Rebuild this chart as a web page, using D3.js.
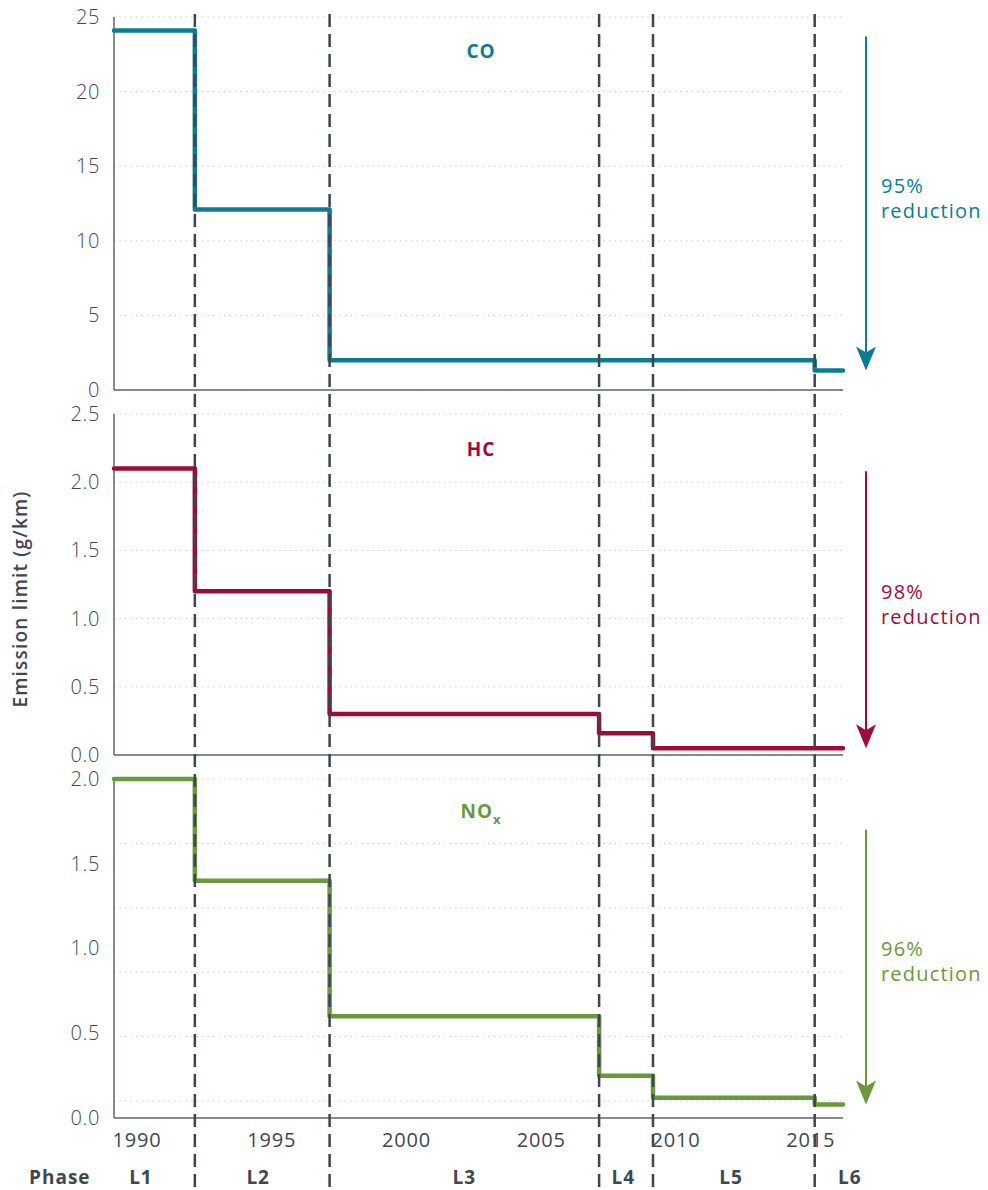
<!DOCTYPE html>
<html>
<head>
<meta charset="utf-8">
<script src="https://cdn.jsdelivr.net/npm/d3@7"></script>
<style>
  body { margin: 0; background: #fff; }
  svg { display: block; font-family: "Open Sans", sans-serif; }
</style>
</head>
<body>
<svg id="chart" width="988" height="1190"></svg>
<script>
// phases and their start years
const phases = ["L1", "L2", "L3", "L4", "L5", "L6"];
const phaseStart = [1990, 1993, 1998, 2008, 2010, 2016];
const yearEnd = 2017.05;
const phaseLabelAt = [1991, 1995.35, 2003, 2008.9, 2012.9, 2017.3];
const yearTicks = [1990, 1995, 2000, 2005, 2010, 2015];

// emission limits per phase (g/km)
const coValues = [24.1, 12.1, 2.0, 2.0, 2.0, 1.3];
const hcValues = [2.1, 1.2, 0.3, 0.16, 0.05, 0.05];
const noxValues = [2.0, 1.4, 0.6, 0.25, 0.12, 0.08];

// y ticks
const coTicks = [0, 5, 10, 15, 20, 25];
const hcTicks = [0, 0.5, 1.0, 1.5, 2.0, 2.5];
const noxTicks = [0, 0.5, 1.0, 1.5, 2.0];
const noxGrid = [2.0, 1.62, 1.24, 0.86, 0.48, 0.1];

// reduction annotations
const reductions = ["95%", "98%", "96%"];
const arrowFrom = [23.7, 2.08, 1.7];

const ink = "#3d4852";
const svg = d3.select("#chart");

const x = d3.scaleLinear().domain([1990, yearEnd]).range([114, 843]);

const panels = [
    { name: "CO", values: coValues, ticks: coTicks, grid: coTicks, max: 25, range: [390, 17], color: "#0a7d90", fmt: d3.format("d"), labelY: 51 },
    { name: "HC", values: hcValues, ticks: hcTicks, grid: hcTicks, max: 2.5, range: [755, 414], color: "#9c0c3b", fmt: d3.format(".1f"), labelY: 449 },
    { name: "NO", sub: "x", values: noxValues, ticks: noxTicks, grid: noxGrid, max: 2.0, range: [1118, 779], color: "#6b983a", fmt: d3.format(".1f"), labelY: 811 }
];

const stepLine = d3.line().curve(d3.curveStepAfter);

panels.forEach((p, i) => {
    const y = d3.scaleLinear().domain([0, p.max]).range(p.range);
    const g = svg.append("g");

    // dotted gridlines
    g.selectAll("line.grid")
        .data(p.grid)
        .join("line")
        .attr("class", "grid")
        .attr("x1", x.range()[0])
        .attr("x2", x.range()[1])
        .attr("y1", d => y(d))
        .attr("y2", d => y(d))
        .attr("stroke", "#c9cdd0")
        .attr("stroke-width", 1)
        .attr("stroke-dasharray", "1.5,4");

    // y axis labels
    g.append("g")
        .attr("transform", `translate(${x.range()[0]},0)`)
        .call(d3.axisLeft(y).tickValues(p.ticks).tickFormat(p.fmt).tickSize(0).tickPadding(14))
        .call(a => a.select(".domain").remove())
        .call(a => a.selectAll("text")
            .attr("fill", ink)
            .style("font-size", "20px")
            .style("letter-spacing", "0.6px")
            .style("font-family", "Open Sans, sans-serif")
            .style("font-weight", 300));

    // axis lines
    g.append("line")
        .attr("x1", x(1990)).attr("x2", x(1990))
        .attr("y1", y(p.max)).attr("y2", y(0))
        .attr("stroke", "#5d666e").attr("stroke-width", 1.5);
    g.append("line")
        .attr("x1", x(1990)).attr("x2", x.range()[1])
        .attr("y1", y(0)).attr("y2", y(0))
        .attr("stroke", "#5d666e").attr("stroke-width", 1.5);

    // step line
    const pts = phaseStart.map((yr, k) => [x(yr), y(p.values[k])]);
    pts.push([x(yearEnd), y(p.values[p.values.length - 1])]);
    g.append("path")
        .attr("d", stepLine(pts))
        .attr("fill", "none")
        .attr("stroke", p.color)
        .attr("stroke-width", 4.5)
        .attr("stroke-linecap", "round")
        .attr("stroke-linejoin", "round");

    // panel title
    const t = g.append("text")
        .attr("x", 481)
        .attr("y", p.labelY)
        .attr("dy", "0.35em")
        .attr("text-anchor", "middle")
        .attr("fill", p.color)
        .style("font-size", "19px")
        .style("letter-spacing", "1px")
        .style("font-weight", 700)
        .text(p.name);
    if (p.sub) {
        t.append("tspan")
            .attr("dy", "0.45em")
            .style("font-size", "13px")
            .text(p.sub);
    }

    // reduction arrow
    const ax = 866;
    const y0 = y(arrowFrom[i]);
    const y1 = y(p.values[p.values.length - 1]);
    g.append("line")
        .attr("x1", ax).attr("x2", ax)
        .attr("y1", y0).attr("y2", y1 - 15)
        .attr("stroke", p.color).attr("stroke-width", 2);
    g.append("path")
        .attr("d", `M${ax},${y1} L${ax - 10},${y1 - 24} L${ax},${y1 - 18} L${ax + 10},${y1 - 24} Z`)
        .attr("fill", p.color);

    const mid = (y0 + y1) / 2;
    const lab = g.append("text")
        .attr("x", 881)
        .attr("y", mid - 18)
        .attr("fill", p.color)
        .style("font-size", "20px")
        .style("letter-spacing", "1.2px")
        .style("font-weight", 500);
    lab.append("tspan").attr("x", 881).attr("dy", "0.35em").text(reductions[i]);
    lab.append("tspan").attr("x", 881).attr("dy", "1.25em").text("reduction");
});

// dashed phase boundaries (drawn on top of the step lines)
svg.append("g")
    .selectAll("line")
    .data(phaseStart.slice(1))
    .join("line")
    .attr("x1", d => x(d))
    .attr("x2", d => x(d))
    .attr("y1", 14)
    .attr("y2", 1190)
    .attr("stroke", "#3b4650")
    .attr("stroke-width", 2.5)
    .attr("stroke-dasharray", "13,7");

// year axis
svg.append("g")
    .attr("transform", "translate(0,1140)")
    .call(d3.axisBottom(x).tickValues(yearTicks).tickFormat(d3.format("d")).tickSize(0).tickPadding(0))
    .call(a => a.select(".domain").remove())
    .call(a => a.selectAll("text")
        .attr("fill", ink)
        .attr("text-anchor", "start")
        .attr("dx", -2)
        .attr("dy", "0.35em")
        .style("font-size", "20px")
        .style("letter-spacing", "0.8px")
        .style("font-family", "Open Sans, sans-serif")
        .style("font-weight", 500));

// phase row
svg.append("text")
    .attr("x", 29)
    .attr("y", 1177)
    .attr("dy", "0.35em")
    .attr("fill", ink)
    .style("font-size", "19px")
    .style("letter-spacing", "1px")
    .style("font-weight", 700)
    .text("Phase");

svg.append("g")
    .selectAll("text")
    .data(phases)
    .join("text")
    .attr("x", (d, k) => x(phaseLabelAt[k]))
    .attr("y", 1177)
    .attr("dy", "0.35em")
    .attr("text-anchor", "middle")
    .attr("fill", ink)
    .style("font-size", "19px")
    .style("letter-spacing", "1px")
    .style("font-weight", 700)
    .text(d => d);

// y axis title
svg.append("text")
    .attr("transform", "translate(20,599) rotate(-90)")
    .attr("dy", "0.35em")
    .attr("text-anchor", "middle")
    .attr("fill", ink)
    .style("font-size", "19px")
    .style("letter-spacing", "1.2px")
    .style("font-weight", 600)
    .text("Emission limit (g/km)");
</script>
</body>
</html>
